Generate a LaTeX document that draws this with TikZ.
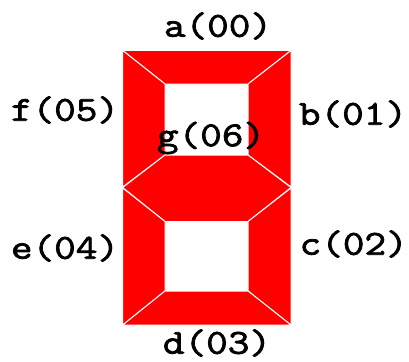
\documentclass[tikz,border=0pt]{standalone}
\usepackage{fontspec}
\newfontfamily\labfont{Latin Modern Mono}[FakeBold=2.2,FakeStretch=1.2]
\tikzset{
  seg/.style={fill=red,draw=white,line width=1pt,line join=miter},
  lab/.style={font=\fontsize{35}{35}\selectfont\labfont,inner sep=0pt,text=black}
}
\begin{document}
\begin{tikzpicture}[x=1pt,y=-1pt]
\useasboundingbox (0,0) rectangle (409,361);
\fill[seg] (122.7,50.5) -- (291,50.5) -- (248,84) -- (165,84) -- cycle;
\fill[seg] (122.7,50.5) -- (165,84) -- (165,155) -- (122.7,187) -- cycle;
\fill[seg] (291,50.5) -- (248,84) -- (248,155) -- (291,187) -- cycle;
\fill[seg] (122.7,187.5) -- (165,155) -- (248,155) -- (291,187.5) -- (248,221.5) -- (165,221.5) -- cycle;
\fill[seg] (122.7,188) -- (165,221.5) -- (165,291) -- (122.7,325) -- cycle;
\fill[seg] (291,188) -- (248,221.5) -- (248,291) -- (291,325) -- cycle;
\fill[seg] (122.7,325) -- (165,291) -- (248,291) -- (291,325) -- cycle;
\node[lab] (a) at (218,26) {a(00)};
\node[lab] (b) at (353,114) {b(01)};
\node[lab] (c) at (353.7,244) {c(02)};
\node[lab] (d) at (217,343) {d(03)};
\node[lab] (e) at (65,248) {e(04)};
\node[lab] (f) at (65,110) {f(05)};
\node[lab] (g) at (211,138) {g(06)};
\end{tikzpicture}
\end{document}
